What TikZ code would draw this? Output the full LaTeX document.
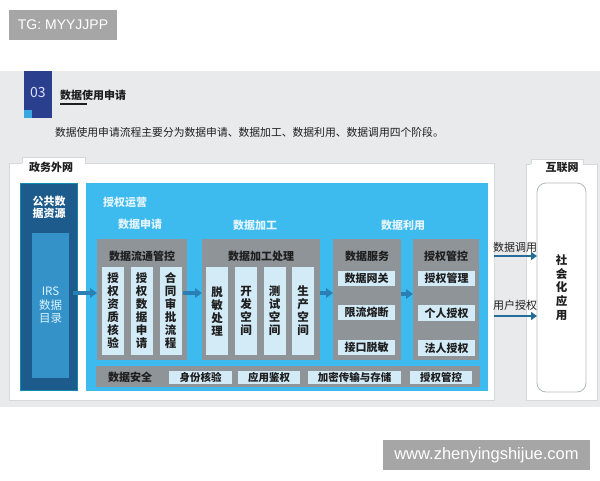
\documentclass[tikz,border=0pt]{standalone}
\usepackage{fontspec}
\setmainfont{Noto Sans CJK SC}
\newfontfamily\wmfont{Liberation Sans}
\usetikzlibrary{arrows.meta}
\definecolor{bandgray}{HTML}{E8EAEC}
\definecolor{navy03}{HTML}{2B3F8F}
\definecolor{sqblue}{HTML}{3AA8E0}
\definecolor{coldark}{HTML}{1C5B8B}
\definecolor{irsblue}{HTML}{3592C8}
\definecolor{cyanpanel}{HTML}{3DBBEE}
\definecolor{boxgray}{HTML}{8F9499}
\definecolor{itemblue}{HTML}{D3EAF7}
\definecolor{txtdark}{HTML}{1E1E1E}
\definecolor{stagetxt}{HTML}{E4F5FD}
\definecolor{arrowblue}{HTML}{2A80B4}
\definecolor{wmgray}{HTML}{A6A6A6}
\definecolor{panelline}{HTML}{D6D9DC}
\definecolor{socline}{HTML}{B5B9BD}
\begin{document}
\begin{tikzpicture}[x=1pt,y=-1pt,
  every node/.style={inner sep=0pt, outer sep=0pt},
  wm/.style={fill=wmgray, text=white, font=\wmfont\fontsize{14}{16}\selectfont},
  panel/.style={fill=white, draw=panelline, line width=0.6pt},
  bt/.style={font=\bfseries\fontsize{11}{13}\selectfont, text=txtdark},
  stage/.style={font=\bfseries\fontsize{11}{13}\selectfont, text=stagetxt},
  graybox/.style={fill=boxgray},
  vcol/.style={fill=itemblue, minimum width=22, minimum height=88, align=center, font=\bfseries\fontsize{11.5}{13}\selectfont, text=txtdark},
  item/.style={fill=itemblue, minimum width=57, minimum height=15, font=\bfseries\fontsize{11}{13}\selectfont, text=txtdark},
  secitem/.style={fill=itemblue, minimum height=13, font=\bfseries\fontsize{10.5}{12}\selectfont, text=txtdark},
  flow/.style={draw=arrowblue, line width=3.2pt, -{Triangle[length=7pt,width=9.5pt]}},
  sideflow/.style={draw=arrowblue!85!black, line width=2.8pt, -{Triangle[length=6pt,width=8pt]}},
  lbl/.style={font=\fontsize{11}{13}\selectfont, text=txtdark}
]
\useasboundingbox (0,0) rectangle (600,480);
\fill[white] (0,0) rectangle (600,480);
\fill[bandgray] (0,71) rectangle (600,407);

% watermarks
\node[wm, minimum width=108, minimum height=30] (tg) at (63,25) {TG: MYYJJPP};
\node[wm, minimum width=207, minimum height=30, font=\wmfont\fontsize{16.5}{18}\selectfont] (www) at (486.5,455) {www.zhenyingshijue.com};

% header
\node[fill=navy03, minimum width=28, minimum height=47] (box03) at (38,94.5) {};
\fill[sqblue] (box03.south west) rectangle ++(8,-8);
\node[text=white!88!blue, font=\fontsize{14}{16}\selectfont] (num03) at (38,93) {03};
\node[bt, anchor=west] (title) at (60,95) {数据使用申请};
\draw[txtdark, line width=1.1pt] (60,104) -- (87,104);
\node[lbl, anchor=west, font=\fontsize{10.8}{13}\selectfont] (sub) at (55,132) {数据使用申请流程主要分为数据申请、数据加工、数据利用、数据调用四个阶段。};

% left panel
\node[panel, minimum width=485, minimum height=237] (lp) at (251.5,281.5) {};
\fill[white] (22,157) rectangle (85,163.8);
\draw[panelline, line width=0.6pt] (22,163) -- (22,157) -- (85,157) -- (85,163);
\node[bt] (lpl) at (51,167) {政务外网};

% right panel
\node[panel, minimum width=71, minimum height=236] (rp) at (561.5,282) {};
\fill[white] (531,159) rectangle (583,164.6);
\draw[panelline, line width=0.6pt] (531,164) -- (531,159) -- (583,159) -- (583,164);
\node[bt] (rpl) at (562,167) {互联网};
\node[draw=socline, line width=0.8pt, fill=white, rounded corners=9pt, minimum width=49, minimum height=209, align=center, font=\bfseries\fontsize{11.5}{13.75}\selectfont, text=txtdark] (soc) at (561.5,287.5) {社\\会\\化\\应\\用};

% public data resources
\node[fill=coldark, draw=coldark!70!cyan, line width=1.5pt, minimum width=57, minimum height=207] (pub) at (49,287) {};
\node[align=center, text=white, font=\bfseries\fontsize{11}{12}\selectfont] (publ) at (49,207) {公共数\\据资源};
\node[fill=irsblue, minimum width=37, minimum height=145, align=center, text=white!85!cyan, font=\fontsize{11.5}{13.5}\selectfont] (irs) at (50.5,305.5) {IRS\\数据\\目录};

% operation panel
\node[fill=cyanpanel, minimum width=402, minimum height=208] (op) at (287,287) {};
\node[stage, anchor=west] (opl) at (103,202) {授权运营};
\node[stage] (st1) at (140,224) {数据申请};
\node[stage] (st2) at (255,225) {数据加工};
\node[stage] (st3) at (403,225) {数据利用};

% stage 1
\node[graybox, minimum width=90, minimum height=121] (g1) at (142,299.5) {};
\node[bt] (g1t) at (142,256) {数据流通管控};
\node[vcol] (c11) at (113,311) {授\\权\\资\\质\\核\\验};
\node[vcol] (c12) at (141.5,311) {授\\权\\数\\据\\申\\请};
\node[vcol] (c13) at (170.5,311) {合\\同\\审\\批\\流\\程};

% stage 2
\node[graybox, minimum width=118, minimum height=121] (g2) at (261,299.5) {};
\node[bt] (g2t) at (261,256) {数据加工处理};
\node[vcol] (c21) at (217,311) {脱\\敏\\处\\理};
\node[vcol] (c22) at (246,311) {开\\发\\空\\间};
\node[vcol] (c23) at (274.5,311) {测\\试\\空\\间};
\node[vcol] (c24) at (303,311) {生\\产\\空\\间};

% stage 3
\node[graybox, minimum width=68, minimum height=121] (g3) at (367,299.5) {};
\node[bt] (g3t) at (367,256) {数据服务};
\node[item] (i31) at (366.5,278) {数据网关};
\node[item] (i32) at (366.5,312.5) {限流熔断};
\node[item] (i33) at (366.5,347.5) {接口脱敏};

\node[graybox, minimum width=66, minimum height=121] (g4) at (446,299.5) {};
\node[bt] (g4t) at (446,256) {授权管控};
\node[item] (i41) at (446.5,278) {授权管理};
\node[item, minimum height=16] (i42) at (446.5,313) {个人授权};
\node[item, minimum height=16] (i43) at (446.5,348) {法人授权};

% security bar
\node[graybox, minimum width=384, minimum height=21] (sec) at (288,376.5) {};
\node[bt] (secl) at (130,377) {数据安全};
\node[secitem, minimum width=63] (s1) at (200.5,377) {身份核验};
\node[secitem, minimum width=62] (s2) at (269,377) {应用鉴权};
\node[secitem, minimum width=93] (s3) at (354.5,377) {加密传输与存储};
\node[secitem, minimum width=62] (s4) at (441,377) {授权管控};

% flow arrows
\draw[flow] (pub.east |- 0,293) ++(-5,0) -- (g1.west |- 0,293);
\draw[flow] (g1.east |- 0,293) ++(-4,0) -- (g2.west |- 0,293);
\draw[flow] (g2.east |- 0,293) -- (g3.west |- 0,293);
\draw[flow] (g3.east |- 0,294) -- (g4.west |- 0,294);

% to internet
\draw[sideflow] (lp.east |- 0,256) -- (soc.west |- 0,256);
\draw[sideflow] (lp.east |- 0,316) -- (soc.west |- 0,316);
\node[lbl] (call) at (515,247) {数据调用};
\node[lbl] (auth) at (515,305) {用户授权};
\end{tikzpicture}
\end{document}
